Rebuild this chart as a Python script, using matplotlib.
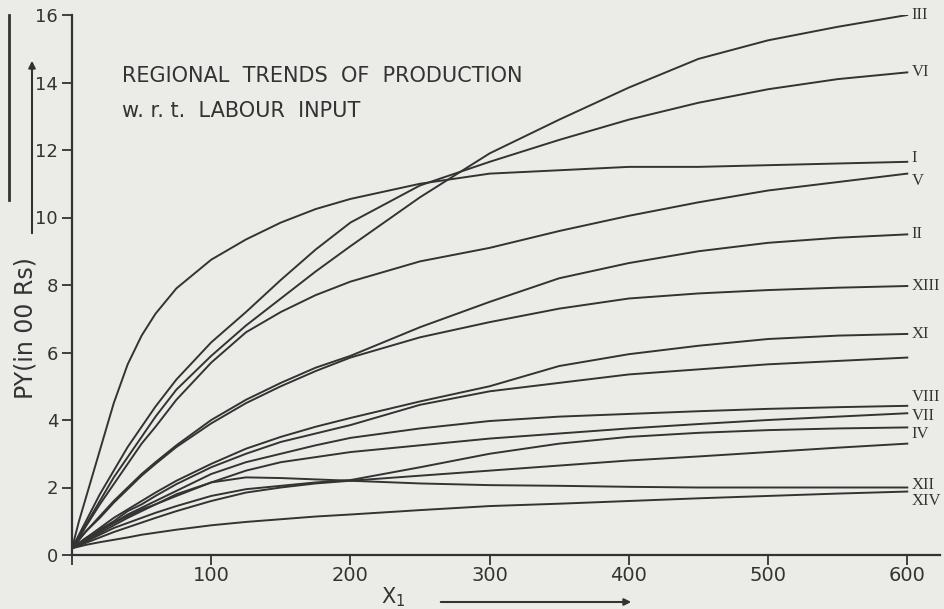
import matplotlib.pyplot as plt
from matplotlib.lines import Line2D

# labour input X1 (shared grid the curves were read at)
X = [0, 5, 10, 20, 30, 40, 50, 60, 75, 100, 125, 150, 175, 200, 250, 300, 350, 400, 450, 500, 550, 600]

# PY (in 00 Rs) for each region
reg_I    = [0.2, 1.0, 1.7, 3.1, 4.5, 5.65, 6.5, 7.15, 7.9, 8.75, 9.35, 9.85, 10.25, 10.55, 11.0, 11.3, 11.4, 11.5, 11.5, 11.55, 11.6, 11.65]
reg_VI   = [0.2, 0.6, 1.0, 1.8, 2.5, 3.2, 3.8, 4.4, 5.2, 6.3, 7.2, 8.15, 9.05, 9.85, 10.95, 11.65, 12.3, 12.9, 13.4, 13.8, 14.1, 14.3]
reg_III  = [0.2, 0.55, 0.9, 1.6, 2.3, 2.9, 3.5, 4.1, 4.9, 5.9, 6.8, 7.6, 8.4, 9.15, 10.6, 11.9, 12.9, 13.85, 14.7, 15.25, 15.65, 16.0]
reg_V    = [0.2, 0.5, 0.85, 1.5, 2.1, 2.7, 3.3, 3.8, 4.6, 5.7, 6.6, 7.2, 7.7, 8.1, 8.7, 9.1, 9.6, 10.05, 10.45, 10.8, 11.05, 11.3]
reg_II   = [0.2, 0.45, 0.7, 1.15, 1.6, 2.0, 2.4, 2.75, 3.25, 4.0, 4.6, 5.1, 5.55, 5.9, 6.75, 7.5, 8.2, 8.65, 9.0, 9.25, 9.4, 9.5]
reg_XIII = [0.2, 0.45, 0.7, 1.1, 1.55, 1.95, 2.35, 2.7, 3.2, 3.9, 4.5, 5.0, 5.45, 5.85, 6.45, 6.9, 7.3, 7.6, 7.75, 7.85, 7.92, 7.97]
reg_XI   = [0.2, 0.35, 0.5, 0.8, 1.1, 1.35, 1.6, 1.85, 2.2, 2.7, 3.15, 3.5, 3.8, 4.06, 4.55, 5.0, 5.6, 5.95, 6.2, 6.4, 6.5, 6.55]
reg_A    = [0.2, 0.35, 0.5, 0.75, 1.0, 1.3, 1.5, 1.75, 2.1, 2.6, 3.0, 3.35, 3.6, 3.85, 4.45, 4.85, 5.1, 5.35, 5.5, 5.65, 5.75, 5.85]
reg_VIII = [0.2, 0.32, 0.45, 0.7, 0.95, 1.2, 1.4, 1.6, 1.9, 2.4, 2.75, 3.0, 3.25, 3.47, 3.75, 3.97, 4.1, 4.18, 4.26, 4.33, 4.38, 4.42]
reg_VII  = [0.2, 0.3, 0.42, 0.65, 0.88, 1.1, 1.3, 1.5, 1.75, 2.15, 2.5, 2.75, 2.9, 3.05, 3.25, 3.45, 3.6, 3.75, 3.88, 4.0, 4.1, 4.2]
reg_IV   = [0.2, 0.3, 0.4, 0.6, 0.8, 0.95, 1.1, 1.25, 1.45, 1.75, 1.95, 2.05, 2.15, 2.22, 2.6, 3.0, 3.3, 3.5, 3.62, 3.7, 3.75, 3.78]
reg_B    = [0.2, 0.28, 0.36, 0.52, 0.68, 0.82, 0.96, 1.1, 1.3, 1.6, 1.85, 2.0, 2.12, 2.2, 2.35, 2.5, 2.65, 2.8, 2.92, 3.05, 3.18, 3.3]
reg_XII  = [0.2, 0.35, 0.5, 0.75, 0.95, 1.15, 1.35, 1.5, 1.8, 2.15, 2.3, 2.28, 2.24, 2.2, 2.12, 2.07, 2.05, 2.02, 2.0, 2.0, 2.0, 2.0]
reg_XIV  = [0.2, 0.25, 0.3, 0.38, 0.45, 0.52, 0.6, 0.66, 0.75, 0.88, 0.98, 1.06, 1.14, 1.2, 1.33, 1.45, 1.52, 1.6, 1.68, 1.75, 1.82, 1.88]

curves = [reg_III, reg_VI, reg_I, reg_V, reg_II, reg_XIII, reg_XI, reg_A,
          reg_VIII, reg_VII, reg_IV, reg_B, reg_XII, reg_XIV]
names = ['III', 'VI', 'I', 'V', 'II', 'XIII', 'XI', '',
         'VIII', 'VII', 'IV', '', 'XII', 'XIV']
# vertical nudge of the end labels, in points
nudge = [0, 0, 3, -5, 0, 0, 0, 0, 6, -2, -5, 0, 2, -7]

paper = '#ebebe8'
ink = '#333333'

fig = plt.figure(figsize=(9.44, 6.09), dpi=100, facecolor=paper)
ax = fig.add_axes([72/944, 54/609, 868/944, 540/609])
ax.set_facecolor(paper)

for y, name, dy in zip(curves, names, nudge):
    ax.plot(X, y, color=ink, lw=1.4)
    if name:
        ax.annotate(name, (X[-1], y[-1]), xytext=(3, dy), textcoords='offset points',
                    ha='left', va='center', fontsize=12, family='Liberation Serif',
                    color=ink, annotation_clip=False)

ax.set_xlim(0, 623.5)
ax.set_ylim(0, 16)
ax.spines['top'].set_visible(False)
ax.spines['right'].set_visible(False)
ax.spines['left'].set_linewidth(1.6)
ax.spines['bottom'].set_linewidth(1.6)
ax.spines['left'].set_color(ink)
ax.spines['bottom'].set_color(ink)

ax.set_xticks([0, 100, 200, 300, 400, 500, 600])
ax.set_xticklabels(['', '100', '200', '300', '400', '500', '600'])
ax.set_yticks([0, 2, 4, 6, 8, 10, 12, 14, 16])
ax.set_yticklabels(['0', '2', '4', '6', '8', '10', '12', '14', '16'])
ax.tick_params(axis='x', direction='out', length=7, width=1.3, pad=1, labelsize=14, colors=ink)
ax.tick_params(axis='y', direction='out', length=7, width=1.3, pad=3, labelsize=13, colors=ink)

ax.text(36, 14.2, 'REGIONAL  TRENDS  OF  PRODUCTION', fontsize=15, color=ink, va='center')
ax.text(36, 13.15, 'w. r. t.  LABOUR  INPUT', fontsize=15, color=ink, va='center')

# y label with upward arrow
fig.text(26/944, 1 - 328/609, 'PY(in 00 Rs)', rotation=90, ha='center', va='center',
         fontsize=17, color=ink)
ax.annotate('', xy=(32/944, 1 - 58/609), xytext=(32/944, 1 - 236/609), xycoords='figure fraction',
            textcoords='figure fraction', arrowprops=dict(arrowstyle='-|>', color=ink, lw=1.5))
fig.add_artist(Line2D([9/944, 9/944], [1 - 15/609, 1 - 200/609], color=ink, lw=2))

# x label with arrow to the right
fig.text(393/944, 1 - 597/609, r'X$_1$', ha='center', va='center', fontsize=15, color=ink)
ax.annotate('', xy=(634/944, 1 - 602/609), xytext=(438/944, 1 - 602/609), xycoords='figure fraction',
            textcoords='figure fraction', arrowprops=dict(arrowstyle='-|>', color=ink, lw=1.5))

plt.savefig('out.png', dpi=100, facecolor=paper)
